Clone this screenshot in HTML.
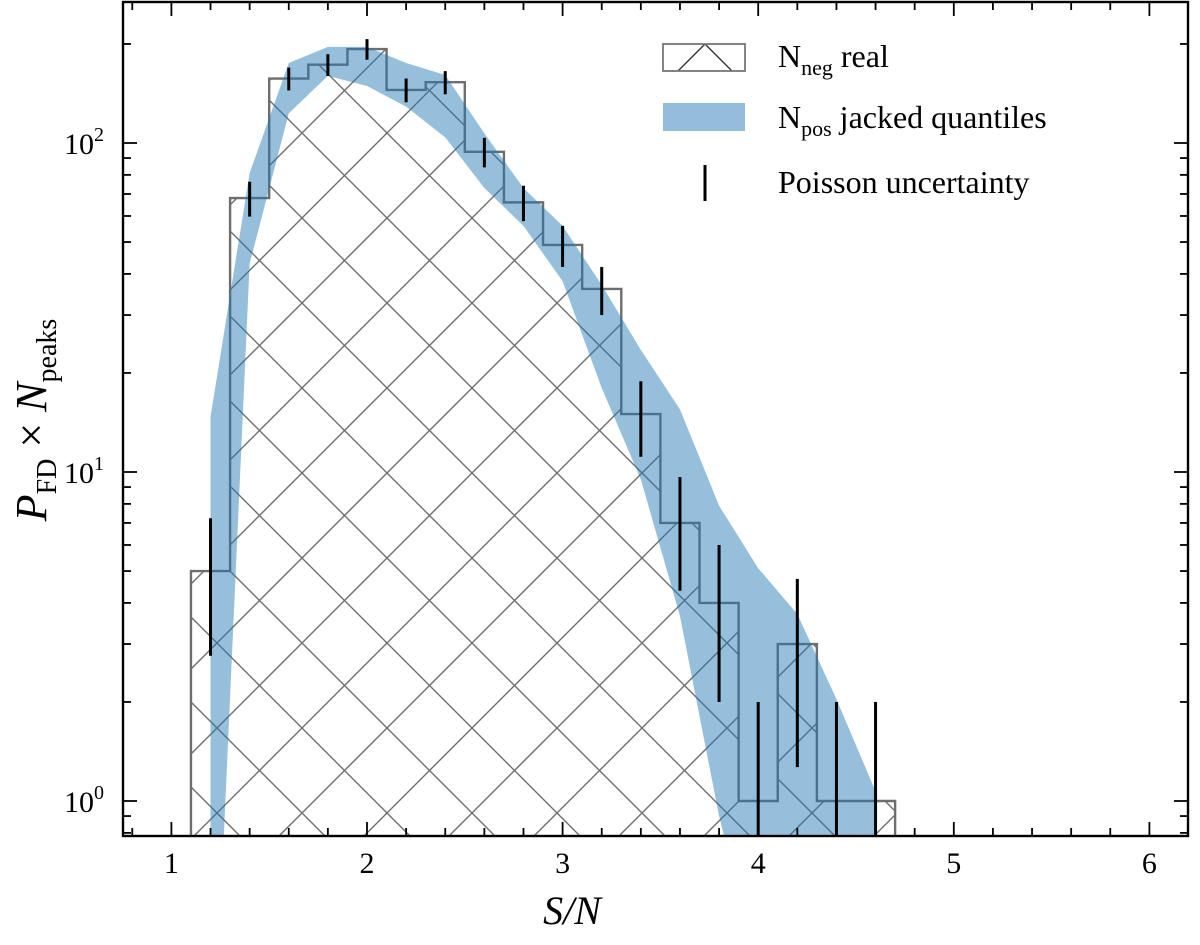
<!DOCTYPE html>
<html><head><meta charset="utf-8">
<style>
html,body{margin:0;padding:0;background:#fff;overflow:hidden;width:1200px;height:945px;}
svg{display:block;font-family:"Liberation Serif","DejaVu Serif",serif;}
</style></head>
<body>
<svg id="chart" width="1200" height="945" viewBox="0 0 1200 945" xmlns="http://www.w3.org/2000/svg">
<defs>
<pattern id="hatch" patternUnits="userSpaceOnUse" x="344.5" y="90.5" width="85" height="85">
<path d="M0,0 L85,85 M85,0 L0,85 M-5,80 L5,90 M80,-5 L90,5 M-5,5 L5,-5 M80,90 L90,80" stroke="#6e6e6e" stroke-width="1.4" fill="none"/>
</pattern>
<pattern id="hatchLeg" patternUnits="userSpaceOnUse" x="705" y="44" width="85" height="85">
<path d="M0,0 L85,85 M85,0 L0,85" stroke="#333" stroke-width="1.4" fill="none"/>
</pattern>
<clipPath id="plotclip"><rect x="123" y="2" width="1065" height="834"/></clipPath>
</defs>
<g id="plot" clip-path="url(#plotclip)"></g>
<g id="axes"></g>
<g id="legend">
  <g>
    <rect x="663" y="44" width="82" height="27" fill="url(#hatchLeg)" stroke="#777" stroke-width="1.8"/>
    <text x="778" y="67" font-size="32">N<tspan font-size="22" dy="8">neg</tspan><tspan dy="-8"> real</tspan></text>
  </g>
  <g>
    <rect x="663" y="103" width="82" height="28" fill="#94bcdb"/>
    <text x="778" y="128" font-size="32">N<tspan font-size="22" dy="8">pos</tspan><tspan dy="-8"> jacked quantiles</tspan></text>
  </g>
  <g>
    <line x1="705" y1="165" x2="705" y2="201" stroke="#000" stroke-width="3"/>
    <text x="778" y="193" font-size="32">Poisson uncertainty</text>
  </g>
</g>
<text x="572" y="924" font-size="40" font-style="italic" text-anchor="middle">S/N</text>
<text transform="translate(46,420) rotate(-90)" font-size="44" text-anchor="middle"><tspan font-style="italic">P</tspan><tspan font-size="28" dy="10">FD</tspan><tspan dy="-10"> × </tspan><tspan font-style="italic">N</tspan><tspan font-size="28" dy="10">peaks</tspan></text>
</svg>
<script>
const binEdges = [1.1,1.3,1.5,1.7,1.9,2.1,2.3,2.5,2.7,2.9,3.1,3.3,3.5,3.7,3.9,4.1,4.3,4.5,4.7];
const negCounts = [5,68,157,173,193,145,153,94,66,49,36,15,7,4,1,3,1,1];
const bandX = [1.2,1.4,1.6,1.8,2.0,2.2,2.4,2.6,2.8,3.0,3.2,3.4,3.6,3.8,4.0,4.2,4.4,4.6];
const bandUpper = [14.7,81,175,196,196,175,161,107,73,56,37,23.5,15.5,7.9,5.1,3.7,2.04,1.07];
const bandLower = [0.1,43,123,160,149,129,104,73,56,38,18,9.5,3.65,0.9,0.3,0.3,0.3,0.3];
const xTicks = [1,2,3,4,5,6];
const yDecades = [0,1,2];

const NS="http://www.w3.org/2000/svg";
function X(v){return 171.4+(v-1)*195.6;}
function Y(v){return 801-329*Math.log10(Math.max(v,1e-3));}
function mk(tag,attrs,parent){const e=document.createElementNS(NS,tag);for(const k in attrs)e.setAttribute(k,attrs[k]);parent.appendChild(e);return e;}
const plot=document.getElementById('plot'), axes=document.getElementById('axes');
const base=Y(0.5);

let d=`M${X(binEdges[0])},${base}`;
for(let i=0;i<negCounts.length;i++){d+=` L${X(binEdges[i])},${Y(negCounts[i])} L${X(binEdges[i+1])},${Y(negCounts[i])}`;}
d+=` L${X(binEdges[binEdges.length-1])},${base} Z`;
const hist=mk('path',{d:d,fill:'url(#hatch)',stroke:'#6e6e6e','stroke-width':2.4},plot);



let bd='';
for(let i=0;i<bandX.length;i++){bd+=(i?' L':'M')+X(bandX[i])+','+Y(bandUpper[i]);}
for(let i=bandX.length-1;i>=0;i--){bd+=' L'+X(bandX[i])+','+Y(bandLower[i]);}
bd+=' Z';
const band=mk('path',{d:bd,fill:'#1f77b4','fill-opacity':0.47,stroke:'none'},plot);



for(let i=0;i<negCounts.length;i++){
  const c=(binEdges[i]+binEdges[i+1])/2, n=negCounts[i], s=Math.sqrt(n);
  const eb=mk('line',{x1:X(c),x2:X(c),y1:Y(n-s),y2:Y(n+s),stroke:'#000','stroke-width':3},plot);
  
  
}

const fr=mk('rect',{x:123,y:2,width:1065,height:834,fill:'none',stroke:'#000','stroke-width':2.4},axes);



for(let v=0.8;v<=6.2;v+=0.2){
  const vv=Math.round(v*10)/10, x=X(vv); if(x<124||x>1187)continue;
  const major=Math.abs(vv-Math.round(vv))<1e-6, L=major?14:8;
  mk('line',{x1:x,x2:x,y1:836,y2:836-L,stroke:'#000','stroke-width':1.8},axes);
  mk('line',{x1:x,x2:x,y1:2,y2:2+L,stroke:'#000','stroke-width':1.8},axes);
}
xTicks.forEach(v=>{
  const t=mk('text',{x:X(v),y:873,'font-size':30,'text-anchor':'middle'},axes);
  t.textContent=v;
  
  
});
for(let e=-1;e<=2;e++){for(let m=1;m<=9;m++){
  const v=m*Math.pow(10,e), y=Y(v); if(y<3||y>835)continue;
  const L=m===1?14:8;
  mk('line',{x1:123,x2:123+L,y1:y,y2:y,stroke:'#000','stroke-width':1.8},axes);
  mk('line',{x1:1188,x2:1188-L,y1:y,y2:y,stroke:'#000','stroke-width':1.8},axes);
}}
yDecades.forEach(e=>{
  const t=mk('text',{x:64,y:Y(Math.pow(10,e))+11,'font-size':30},axes);
  t.innerHTML='10<tspan font-size="20" dy="-13">'+e+'</tspan>';
  
  
});
</script>
</body></html>
